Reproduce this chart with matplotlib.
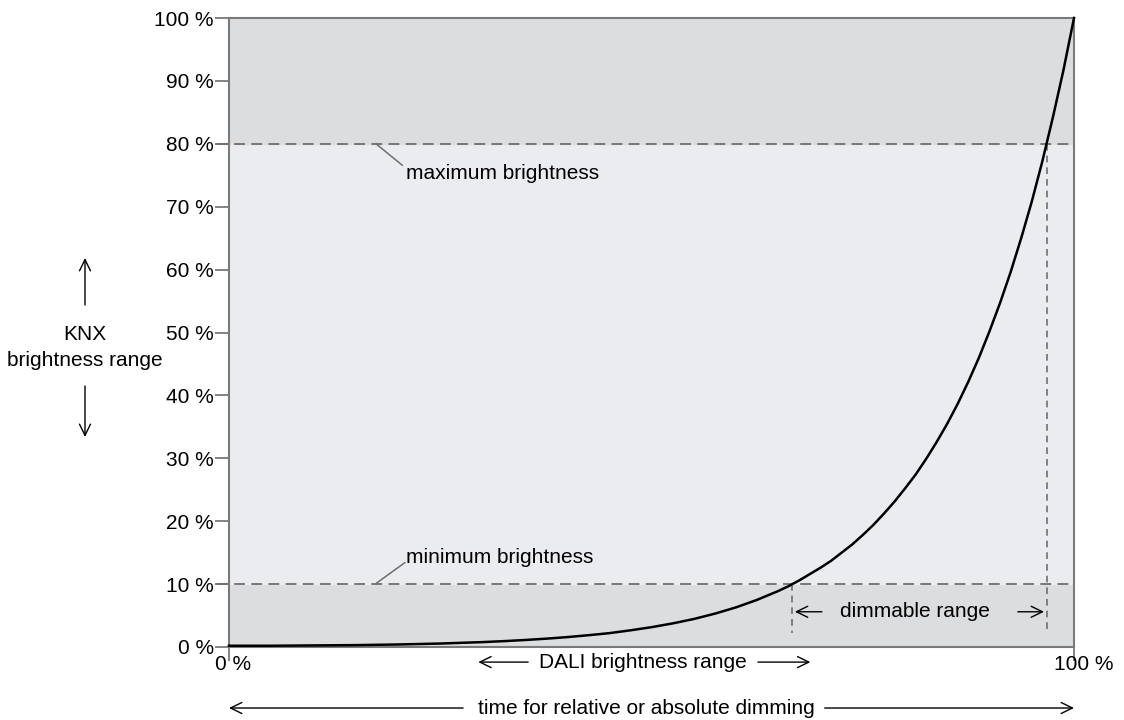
"""DALI dimming curve: brightness vs. time for relative/absolute dimming."""

import matplotlib

matplotlib.use("Agg")
import matplotlib.pyplot as plt
import numpy as np
from matplotlib.patches import FancyArrowPatch

plt.rcParams["font.family"] = ["Liberation Sans", "DejaVu Sans"]

# values (percent)
time_pct = [0, 5, 10, 15, 20, 25, 30, 32.5, 35, 37.5, 40, 42.5, 45, 47.5, 50, 52.5, 55,
            57.5, 60, 61.25, 62.5, 63.75, 65, 66.25, 67.5, 68.75, 70, 71.25, 72.5,
            73.75, 75, 76.25, 77.5, 78.75, 80, 81.25, 82.5, 83.75, 85, 86.25, 87.5,
            88.75, 90, 91.25, 92.5, 93.75, 95, 96.25, 97.5, 98.75, 100]
brightness_pct = [0.2, 0.2, 0.25, 0.3, 0.4, 0.55, 0.78, 0.93, 1.11, 1.32, 1.57, 1.87, 2.2,
                  2.65, 3.15, 3.75, 4.45, 5.3, 6.3, 6.9, 7.5, 8.2, 8.9, 9.7, 10.6, 11.6,
                  12.6, 13.7, 15.0, 16.3, 17.8, 19.4, 21.2, 23.1, 25.2, 27.4, 29.9,
                  32.6, 35.5, 38.7, 42.2, 46.0, 50.2, 54.7, 59.6, 65.0, 70.8, 77.2,
                  84.2, 91.7, 100]
min_brightness = 10
max_brightness = 80
y_ticks = [0, 10, 20, 30, 40, 50, 60, 70, 80, 90, 100]
y_tick_labels = [f"{v} %" for v in y_ticks]

GREY_DARK = "#dcdddf"
GREY_LIGHT = "#ebecef"
LINE_GREY = "#6e6e6e"
FS = 15

fig = plt.figure(figsize=(11.24, 7.2), dpi=100)
ax = fig.add_axes([229 / 1124, 1 - 647 / 720, 845 / 1124, 629 / 720])
ax.set_xlim(0, 100)
ax.set_ylim(0, 100)

# shaded bands
ax.axhspan(0, min_brightness, color=GREY_DARK, zorder=0)
ax.axhspan(min_brightness, max_brightness, color=GREY_LIGHT, zorder=0)
ax.axhspan(max_brightness, 100, color=GREY_DARK, zorder=0)

# curve
ax.plot(time_pct, brightness_pct, color="black", linewidth=1.8, zorder=3,
        clip_on=False, solid_joinstyle="round")

# min / max dashed lines
for level in (min_brightness, max_brightness):
    ax.plot([-1.4, 100], [level, level], color=LINE_GREY, linewidth=1.3,
            linestyle=(0, (6, 3.5)), clip_on=False, zorder=2)

# where the curve crosses min/max brightness -> dimmable range
x_min = np.interp(min_brightness, brightness_pct, time_pct)
x_max = np.interp(max_brightness, brightness_pct, time_pct)
for xv, top in ((x_min, min_brightness), (x_max, max_brightness)):
    ax.plot([xv, xv], [top, 2.2], color=LINE_GREY, linewidth=1.2,
            linestyle=(0, (4, 3)), zorder=2)

# spines / ticks
for s in ax.spines.values():
    s.set_color("#7a7a7a")
    s.set_linewidth(1.5)
ax.set_yticks(y_ticks)
ax.set_yticklabels(y_tick_labels, fontsize=FS)
ax.tick_params(axis="y", length=10, width=1.3, color="#7a7a7a", pad=1)
ax.set_xticks([0, 100])
ax.set_xticklabels(["", ""])
ax.tick_params(axis="x", length=10, width=1.3, color="#7a7a7a")

xlab = ax.get_xaxis_transform()
ax.text(0.5, -0.013, "0 %", transform=xlab, ha="center", va="top", fontsize=FS)
ax.text(101.2, -0.013, "100 %", transform=xlab, ha="center", va="top", fontsize=FS)

# annotations
ax.plot([17.4, 20.5], [80, 76.6], color=LINE_GREY, linewidth=1.1)
ax.text(20.9, 75.2, "maximum brightness", fontsize=FS, va="center", ha="left")
ax.plot([17.5, 20.8], [10.2, 13.4], color=LINE_GREY, linewidth=1.1)
ax.text(20.9, 14.3, "minimum brightness", fontsize=FS, va="center", ha="left")

arrow = dict(arrowstyle="->,head_length=0.45,head_width=0.22", mutation_scale=18,
             color="black", linewidth=1.0, shrinkA=0, shrinkB=0)

# dimmable range
ax.annotate("", xy=(x_min + 0.3, 5.6), xytext=(x_min + 3.5, 5.6), arrowprops=arrow)
ax.annotate("", xy=(x_max - 0.3, 5.6), xytext=(x_max - 3.4, 5.6), arrowprops=arrow)
ax.text((x_min + x_max) / 2 - 0.5, 5.6, "dimmable range", fontsize=FS,
        ha="center", va="center")

# DALI brightness range (below axis)
ax.text(0.49, -0.024, "DALI brightness range", transform=ax.transAxes,
        fontsize=FS, ha="center", va="center")
ax.annotate("", xy=(0.295, -0.024), xytext=(0.354, -0.024), xycoords="axes fraction",
            textcoords="axes fraction", arrowprops=arrow, annotation_clip=False)
ax.annotate("", xy=(0.688, -0.024), xytext=(0.626, -0.024), xycoords="axes fraction",
            textcoords="axes fraction", arrowprops=arrow, annotation_clip=False)

# time for dimming
ax.text(0.494, -0.097, "time for relative or absolute dimming", transform=ax.transAxes,
        fontsize=FS, ha="center", va="center")
ax.annotate("", xy=(0.0, -0.097), xytext=(0.277, -0.097), xycoords="axes fraction",
            textcoords="axes fraction", arrowprops=arrow, annotation_clip=False)
ax.annotate("", xy=(1.0, -0.097), xytext=(0.705, -0.097), xycoords="axes fraction",
            textcoords="axes fraction", arrowprops=arrow, annotation_clip=False)

# KNX brightness range (left)
fig.text(85 / 1124, 1 - 335 / 720, "KNX", fontsize=FS, ha="center", va="center")
fig.text(85 / 1124, 1 - 360 / 720, "brightness range", fontsize=FS, ha="center", va="center")
for y0, y1 in ((305, 258), (386, 437)):
    fig.add_artist(FancyArrowPatch(
        (85 / 1124, 1 - y0 / 720), (85 / 1124, 1 - y1 / 720), transform=fig.transFigure,
        arrowstyle="->,head_length=0.45,head_width=0.22", mutation_scale=18,
        color="black", linewidth=1.0, shrinkA=0, shrinkB=0))

fig.savefig("out.png", dpi=100)
plt.close(fig)
